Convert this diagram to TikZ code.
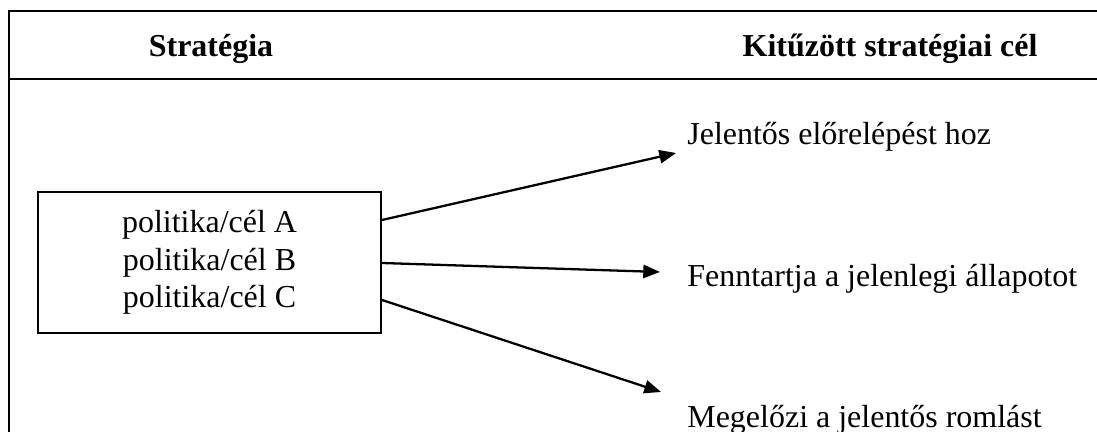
\documentclass[tikz,border=0pt]{standalone}
\usepackage{fontspec}
\setmainfont{Liberation Serif}
\usetikzlibrary{arrows.meta}

\begin{document}
\begin{tikzpicture}[
    x=0.02cm,
    y=0.02cm,
    every node/.style={
        inner sep=0pt,
        font=\fontsize{18.2}{21.5}\selectfont
    },
    head/.style={anchor=base,font=\fontsize{18.2}{21.5}\selectfont\bfseries},
    goal/.style={anchor=base west},
    stratbox/.style={draw,line width=1.2pt,align=center,
        minimum width=6.86cm,minimum height=2.82cm},
    frame/.style={line width=1.2pt},
    link/.style={draw,line width=1.3pt,-{Triangle[length=9.5pt,width=7.5pt]}}
]
\clip (0,0) rectangle (1097,432);
% table lines
\draw[frame] (9,0) -- (9,421) -- (1097,421);
\draw[frame] (9,353) -- (1097,353);
% header row
\node[head] (hstrat) at (211,375) {Stratégia};
\node[head] (hgoal) at (890,375) {Kitűzött stratégiai cél};
% strategy box
\node[stratbox] (strat) at (209.5,169.5)
    {politika/cél A\\politika/cél B\\politika/cél C};
% goals
\node[goal] (goalA) at (687,287) {Jelentős előrelépést hoz};
\node[goal] (goalB) at (687,145) {Fenntartja a jelenlegi állapotot};
\node[goal] (goalC) at (687,5) {Megelőzi a jelentős romlást};
% arrow ends
\coordinate (outA) at (strat.east |- 0,212);
\coordinate (outB) at (strat.east |- 0,169);
\coordinate (outC) at (strat.east |- 0,132);
\coordinate (inA) at (676,279);
\coordinate (inB) at (660,160);
\coordinate (inC) at (661,40);
\draw[link] (outA) -- (inA);
\draw[link] (outB) -- (inB);
\draw[link] (outC) -- (inC);
\end{tikzpicture}
\end{document}
